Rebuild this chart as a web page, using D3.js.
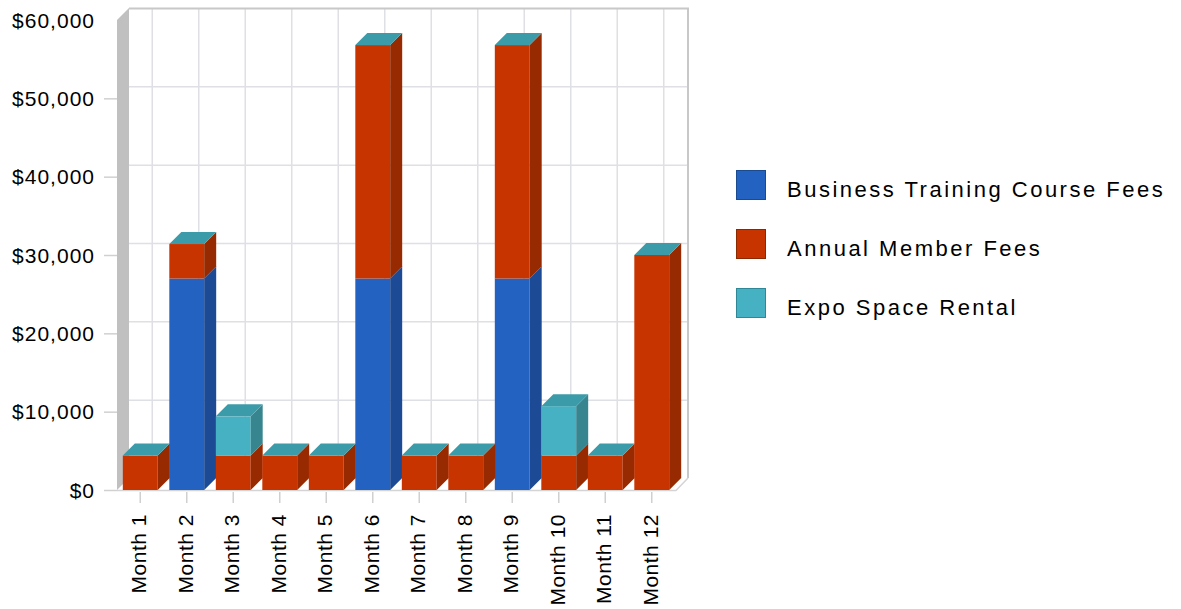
<!DOCTYPE html>
<html>
<head>
<meta charset="utf-8">
<script src="https://cdn.jsdelivr.net/npm/d3@7"></script>
<style>
  html, body { margin: 0; padding: 0; background: #ffffff; }
  svg { display: block; }
  text { font-family: "Liberation Sans", Arial, sans-serif; fill: #000; }
</style>
</head>
<body>
<svg id="chart" width="1181" height="609"></svg>
<script>
// ---- data ----
const months = ["Month 1","Month 2","Month 3","Month 4","Month 5","Month 6",
                "Month 7","Month 8","Month 9","Month 10","Month 11","Month 12"];
const seriesNames = ["Business Training Course Fees","Annual Member Fees","Expo Space Rental"];
const trainingFees = [0, 27000, 0, 0, 0, 27000, 0, 0, 27000, 0, 0, 0];
const memberFees   = [4400, 4400, 4400, 4400, 4400, 29800, 4400, 4400, 29800, 4400, 4400, 30000];
const expoRental   = [0, 0, 5000, 0, 0, 0, 0, 0, 0, 6300, 0, 0];
const yTickValues  = [0, 10000, 20000, 30000, 40000, 50000, 60000];

(function () {
// ---- styles ----
const frontColors = ["#2462c1", "#c83400", "#46b1c2"];
const sideColors  = ["#1d4a94", "#972a00", "#37868f"];
const topColor    = "#3c9ba8";
const swatchStroke = ["#1a4a90", "#8a2800", "#2f8898"];

const svg = d3.select("#chart");
const depthX = 12, depthY = 12;
const pLeft = 117, pRight = 675, pBottom = 490, pTop = 20;

const x = d3.scaleBand().domain(months).range([pLeft, pRight])
  .paddingInner(0.25).paddingOuter(0.125);
const y = d3.scaleLinear().domain([0, 60000]).range([pBottom, pTop]);

const rows = months.map((m, i) => ({
  month: m,
  [seriesNames[0]]: trainingFees[i],
  [seriesNames[1]]: memberFees[i],
  [seriesNames[2]]: expoRental[i]
}));
const stacked = d3.stack().keys(seriesNames)(rows);

// ---- back plane ----
const backL = pLeft + depthX, backR = pRight + depthX + 1, backT = pTop - depthY, backB = pBottom - depthY;
svg.append("rect").attr("x", backL).attr("y", backT)
  .attr("width", backR - backL).attr("height", backB - backT).attr("fill", "#ffffff");

svg.append("g").selectAll("line").data(yTickValues.filter(v => v > 0 && v < 60000)).join("line")
  .attr("x1", backL).attr("x2", backR)
  .attr("y1", d => y(d) - depthY + 0.5).attr("y2", d => y(d) - depthY + 0.5)
  .attr("stroke", "#dfe0e6").attr("stroke-width", 1.5);

svg.append("g").selectAll("line").data(months).join("line")
  .attr("x1", d => x(d) + x.bandwidth() / 2 + depthX)
  .attr("x2", d => x(d) + x.bandwidth() / 2 + depthX)
  .attr("y1", backT).attr("y2", backB)
  .attr("stroke", "#dfe0e6").attr("stroke-width", 1.5);

svg.append("path")
  .attr("d", `M${backL},${backT + 0.5}H${backR}V${backB}`)
  .attr("fill", "none").attr("stroke", "#c8c8c8").attr("stroke-width", 2);

// floor
svg.append("path")
  .attr("d", `M${pLeft},${pBottom}L${pRight},${pBottom}L${pRight + depthX},${pBottom - depthY}L${backL},${pBottom - depthY}Z`)
  .attr("fill", "#ffffff");
svg.append("path")
  .attr("d", `M${pLeft},${pBottom + 0.5}L${pRight + 1},${pBottom + 0.5}L${pRight + depthX + 1},${pBottom - depthY}`)
  .attr("fill", "none").attr("stroke", "#d4d4d4").attr("stroke-width", 1.5);

// left wall
svg.append("path")
  .attr("d", `M${pLeft},${y(60000)}L${pLeft + depthX},${y(60000) - depthY}L${pLeft + depthX},${pBottom - depthY}L${pLeft},${pBottom}Z`)
  .attr("fill", "#c0c0c0");

// y ticks
svg.append("g").selectAll("line").data(yTickValues.filter(v => v < 60000)).join("line")
  .attr("x1", 104).attr("x2", pLeft)
  .attr("y1", d => y(d) + 0.5).attr("y2", d => y(d) + 0.5)
  .attr("stroke", "#d0d0d0").attr("stroke-width", 1.5);

// y labels
const fmt = d3.format("$,");
svg.append("g").selectAll("text").data(yTickValues).join("text")
  .attr("x", 95).attr("y", d => y(d))
  .attr("dy", "0.36em")
  .attr("text-anchor", "end")
  .style("font-size", "21px").style("letter-spacing", "1px")
  .text(d => fmt(d));

// x ticks
svg.append("g").selectAll("line").data(months).join("line")
  .attr("x1", d => x(d) + x.bandwidth() / 2).attr("x2", d => x(d) + x.bandwidth() / 2)
  .attr("y1", pBottom + 2).attr("y2", pBottom + 13)
  .attr("stroke", "#d0d0d0").attr("stroke-width", 1.5);

// x labels
svg.append("g").selectAll("text").data(months).join("text")
  .attr("transform", d => `translate(${x(d) + x.bandwidth() / 2 + 6},514) rotate(-90)`)
  .attr("text-anchor", "end")
  .style("font-size", "21px").style("letter-spacing", "0.5px")
  .text(d => d);

// ---- bars ----
const bw = x.bandwidth();
const barsG = svg.append("g");
stacked.forEach((layer, si) => {
  const g = barsG.append("g");
  layer.forEach(seg => {
    const m = seg.data.month;
    const x0 = x(m), x1 = x0 + bw;
    const yTop = y(seg[1]), yBot = y(seg[0]);
    if (seg[1] - seg[0] > 0) {
      g.append("rect").attr("x", x0).attr("y", yTop)
        .attr("width", bw).attr("height", yBot - yTop)
        .attr("fill", frontColors[si]);
      g.append("path")
        .attr("d", `M${x1},${yTop}L${x1 + depthX},${yTop - depthY}L${x1 + depthX},${yBot - depthY}L${x1},${yBot}Z`)
        .attr("fill", sideColors[si]);
    }
    if (si === stacked.length - 1) {
      g.append("path")
        .attr("d", `M${x0},${yTop}L${x0 + depthX},${yTop - depthY}L${x1 + depthX},${yTop - depthY}L${x1},${yTop}Z`)
        .attr("fill", topColor);
    }
  });
});

// ---- legend ----
const legend = svg.append("g");
seriesNames.forEach((name, i) => {
  const cy = 185 + i * 59;
  legend.append("rect")
    .attr("x", 736.5).attr("y", cy - 14.5)
    .attr("width", 29).attr("height", 29)
    .attr("fill", frontColors[i]).attr("stroke", swatchStroke[i]).attr("stroke-width", 1);
  legend.append("text")
    .attr("x", 787).attr("y", cy + 4).attr("dy", "0.36em")
    .style("font-size", "22px").style("letter-spacing", "2.5px")
    .text(name);
});
})();
</script>
</body>
</html>
